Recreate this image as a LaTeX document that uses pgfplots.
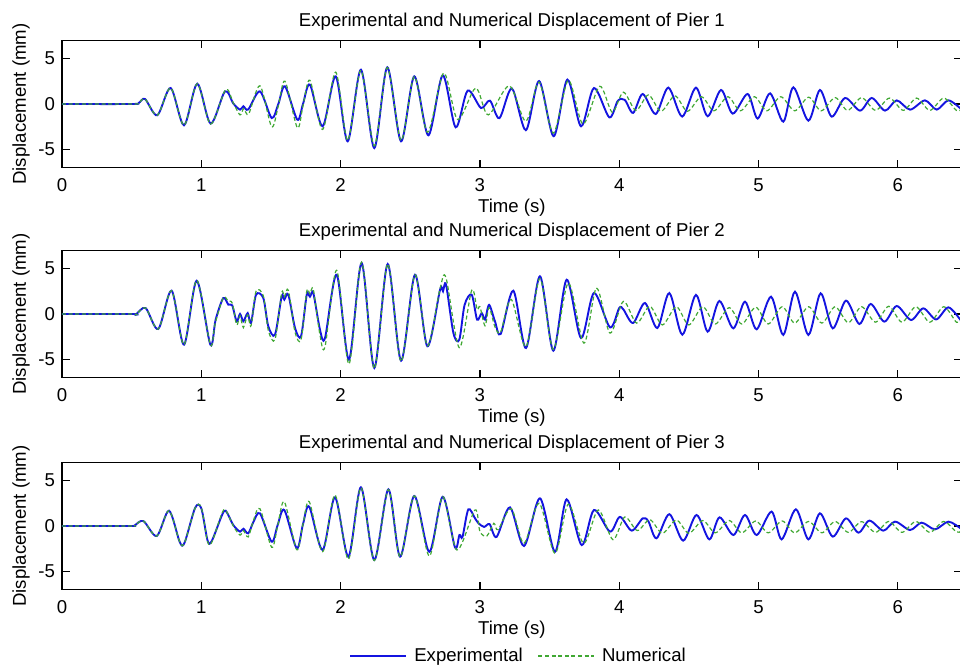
\documentclass[border=0pt]{standalone}
\usepackage{pgfplots}
\pgfplotsset{compat=1.18}
\usepackage{fontspec}
\setmainfont{Liberation Sans}
\definecolor{expblue}{rgb}{0.08,0.08,0.88}
\definecolor{numgreen}{rgb}{0.25,0.66,0.2}
\newcommand\fs{\fontsize{9.3pt}{11pt}\selectfont}
\pgfplotsset{pier/.style={
  scale only axis, width=449.94pt, height=63.7pt,
  xmin=0, xmax=6.46, ymin=-7, ymax=7,
  xtick={0,1,2,3,4,5,6}, ytick={-5,0,5},
  tick align=inside, major tick length=3.8pt,
  axis line style={line width=0.7pt},
  every tick/.style={line width=0.6pt, black},
  /pgf/number format/assume math mode=true,
  tick label style={font=\fs},
  xticklabel style={anchor=base, yshift=-12pt},
  xlabel={Time (s)},
  xlabel style={font=\fs, at={(axis description cs:0.5,0)}, anchor=base, yshift=-22.5pt},
  ylabel={Displacement (mm)},
  ylabel style={font=\fs, at={([xshift=-20.5pt]axis description cs:0,0.5)}, anchor=center},
  title style={font=\fs, at={(axis description cs:0.5,1)}, anchor=base, yshift=1pt},
  exp/.style={expblue, line width=0.95pt, smooth},
  num/.style={numgreen, line width=0.6pt, dash pattern=on 2pt off 1.3pt, smooth},
}}
\begin{document}
\begin{tikzpicture}
\useasboundingbox (0,0) rectangle (480pt,332.5pt);
% ---------------- Pier 1
\begin{axis}[pier, at={(31pt,248.65pt)}, anchor=south west,
  title={Experimental and Numerical Displacement of Pier 1}]
\addplot[exp] coordinates {
(0,0) (0.50,0) (0.55,0.1) (0.596,0.55) (0.684,-1.24) (0.780,1.76) (0.876,-2.34)
(0.971,2.23) (1.067,-2.16) (1.170,1.39) (1.23,0.05) (1.278,-0.62) (1.302,-0.25)
(1.337,-0.6) (1.421,1.39) (1.505,-1.54) (1.553,0.0) (1.601,1.94) (1.689,-1.72)
(1.73,0.0) (1.780,2.12) (1.871,-2.45) (1.965,3.04) (2.051,-4.1) (2.146,3.77)
(2.242,-4.84) (2.335,4.03) (2.434,-4.1) (2.529,3.04) (2.630,-3.44) (2.733,3.15)
(2.826,-2.56) (2.912,1.47) (3.008,-0.44) (3.072,0.37) (3.140,-1.56) (3.23,1.7)
(3.330,-2.88) (3.425,2.52) (3.530,-3.54) (3.628,2.68) (3.726,-2.45) (3.819,1.76)
(3.929,-1.47) (3.99,0.35) (4.04,0.45) (4.10,-0.98) (4.169,1.1) (4.262,-1.1)
(4.353,1.8) (4.452,-1.38) (4.551,1.8) (4.635,-1.35) (4.731,1.54) (4.815,-1.06)
(4.922,1.1) (4.994,-1.6) (5.083,1.17) (5.178,-1.94) (5.25,1.83) (5.358,-1.83)
(5.441,1.54) (5.525,-1.39) (5.621,0.66) (5.729,-0.73) (5.813,0.66) (5.908,-0.73)
(5.992,0.4) (6.088,-0.62) (6.195,0.4) (6.279,-0.62) (6.363,0.4) (6.45,-0.5)
};
\addplot[num] coordinates {
(0,0) (0.50,0) (0.55,0.1) (0.596,0.55) (0.684,-1.24) (0.780,1.76) (0.876,-2.34)
(0.971,2.23) (1.067,-2.2) (1.175,1.6) (1.23,0.1) (1.278,-1.2) (1.305,-0.5)
(1.340,-1.1) (1.421,2.0) (1.505,-2.5) (1.553,-0.2) (1.601,2.5) (1.689,-2.6)
(1.73,-0.2) (1.780,2.6) (1.871,-2.8) (1.965,3.5) (2.051,-4.0) (2.146,3.7)
(2.242,-4.6) (2.335,4.0) (2.434,-4.0) (2.529,3.0) (2.625,-3.1) (2.740,3.4)
(2.84,-1.7) (2.97,1.75) (3.06,-1.2) (3.211,2.0) (3.33,-1.9) (3.425,2.4)
(3.527,-3.2) (3.635,2.6) (3.74,-2.2) (3.86,1.95) (3.95,-0.9) (4.03,1.3)
(4.12,-0.7) (4.21,1.0) (4.30,-0.8) (4.40,0.9) (4.49,-0.8) (4.59,0.8)
(4.68,-0.75) (4.78,0.8) (4.87,-0.75) (4.97,0.8) (5.06,-0.75) (5.16,0.8)
(5.26,-0.75) (5.36,0.75) (5.45,-0.75) (5.55,0.7) (5.64,-0.7) (5.74,0.7)
(5.84,-0.7) (5.94,0.65) (6.04,-0.7) (6.135,0.65) (6.23,-0.7) (6.33,0.65)
(6.42,-0.7) (6.45,-0.65)
};
\end{axis}
% ---------------- Pier 2
\begin{axis}[pier, at={(31pt,143.65pt)}, anchor=south west,
  title={Experimental and Numerical Displacement of Pier 2}]
\addplot[exp] coordinates {
(0,0) (0.50,0) (0.53,-0.05) (0.600,0.66) (0.691,-1.65) (0.787,2.56) (0.876,-3.37)
(0.967,3.66) (1.065,-3.37) (1.103,-0.62) (1.158,1.76) (1.194,1.03) (1.222,0.95)
(1.254,-0.81) (1.278,0.0) (1.302,-0.8) (1.333,0.1) (1.357,-1.0) (1.393,2.12)
(1.445,1.76) (1.481,-1.35) (1.529,-2.27) (1.577,1.94) (1.596,1.58) (1.625,2.12)
(1.673,-1.54) (1.716,-2.45) (1.757,2.12) (1.78,1.9) (1.804,2.3) (1.852,-1.72)
(1.888,-2.64) (1.972,4.32) (2.060,-5.02) (2.151,5.6) (2.242,-5.93) (2.338,5.49)
(2.434,-5.13) (2.534,4.32) (2.623,-3.55) (2.714,2.67) (2.735,2.5) (2.757,3.22)
(2.81,-2.1) (2.852,-2.83) (2.89,0.99) (2.941,2.12) (2.98,-0.62) (3.013,0.1)
(3.037,-0.62) (3.066,1.0) (3.108,-0.8) (3.149,-2.2) (3.24,2.56) (3.331,-3.74)
(3.431,4.14) (3.527,-4.03) (3.623,3.77) (3.726,-2.64) (3.819,2.3) (3.934,-1.47)
(4.00,0.66) (4.03,0.5) (4.10,-0.99) (4.185,1.21) (4.274,-1.54) (4.36,2.3)
(4.453,-2.27) (4.551,2.1) (4.635,-1.94) (4.719,1.43) (4.819,-1.58) (4.903,1.36)
(4.987,-1.68) (5.09,1.9) (5.178,-2.3) (5.262,2.45) (5.358,-2.3) (5.446,2.27)
(5.533,-1.58) (5.628,1.47) (5.724,-1.1) (5.805,1.1) (5.903,-0.84) (5.992,0.88)
(6.095,-0.66) (6.183,0.62) (6.275,-0.6) (6.363,0.73) (6.45,-0.66)
};
\addplot[num] coordinates {
(0,0) (0.50,0) (0.53,-0.05) (0.600,0.66) (0.691,-1.65) (0.787,2.56) (0.876,-3.37)
(0.967,3.7) (1.065,-3.37) (1.10,-1.0) (1.158,1.8) (1.194,1.4) (1.222,1.2)
(1.254,-1.2) (1.278,-0.2) (1.302,-1.5) (1.333,-0.1) (1.357,-1.3) (1.393,2.5)
(1.445,2.0) (1.481,-1.8) (1.529,-2.8) (1.577,2.3) (1.596,1.9) (1.625,2.6)
(1.673,-2.0) (1.716,-2.8) (1.757,2.5) (1.78,2.2) (1.804,2.7) (1.852,-2.3)
(1.888,-3.6) (1.972,4.8) (2.060,-5.5) (2.151,5.7) (2.242,-6.0) (2.338,5.5)
(2.434,-5.2) (2.534,4.3) (2.623,-3.5) (2.714,2.8) (2.757,3.96) (2.852,-3.7)
(2.941,2.6) (2.98,0.5) (3.00,0.8) (3.037,-1.3) (3.066,0.7) (3.108,-1.4)
(3.149,-2.0) (3.225,1.6) (3.331,-3.6) (3.431,3.9) (3.527,-3.9) (3.635,3.4)
(3.747,-3.2) (3.837,2.86) (3.934,-2.1) (4.03,1.39) (4.125,-1.0) (4.22,0.84)
(4.31,-1.2) (4.41,0.8) (4.50,-1.2) (4.60,0.8) (4.69,-1.1) (4.79,0.7)
(4.88,-1.1) (4.98,0.75) (5.07,-1.1) (5.17,0.8) (5.26,-1.0) (5.36,0.8)
(5.455,-1.0) (5.55,0.8) (5.645,-0.95) (5.74,0.8) (5.84,-0.9) (5.935,0.85)
(6.03,-0.9) (6.13,0.8) (6.23,-0.9) (6.33,0.8) (6.42,-0.9) (6.45,-0.8)
};
\end{axis}
% ---------------- Pier 3
\begin{axis}[pier, at={(31pt,37.65pt)}, anchor=south west,
  title={Experimental and Numerical Displacement of Pier 3},
  legend columns=2,
  legend style={at={(axis description cs:0,0)}, anchor=west, xshift=143.5pt, yshift=-33.15pt,
    draw=none, fill=none, inner sep=0pt, font=\fs, nodes={inner sep=0pt},
    /tikz/every odd column/.append style={column sep=3.5pt},
    /tikz/every even column/.append style={column sep=7.5pt}},
  legend image code/.code={\draw[#1] (0pt,0pt) -- (28pt,0pt);}]
\addplot[exp] coordinates {
(0,0) (0.50,0) (0.52,0.05) (0.584,0.55) (0.680,-1.1) (0.768,1.68) (0.845,-1.75)
(0.880,-1.83) (0.956,2.0) (1.00,1.95) (1.045,-1.6) (1.075,-1.65) (1.146,1.1)
(1.175,1.68) (1.230,0.1) (1.278,-0.62) (1.302,-0.3) (1.337,-0.81) (1.374,0.44)
(1.421,1.39) (1.505,-1.72) (1.548,0.1) (1.596,1.76) (1.685,-2.45) (1.73,0.2)
(1.775,2.12) (1.871,-2.64) (1.960,3.15) (2.056,-3.37) (2.146,4.25) (2.242,-3.74)
(2.343,4.03) (2.427,-3.37) (2.529,3.3) (2.637,-2.83) (2.733,3.22) (2.821,-2.34)
(2.853,-0.99) (2.875,-1.2) (2.917,1.83) (2.965,0.84) (2.99,0.3) (3.03,-0.1)
(3.07,0.2) (3.12,-1.2) (3.216,2.05) (3.317,-2.2) (3.431,3.04) (3.539,-2.83)
(3.623,2.93) (3.731,-2.1) (3.819,1.76) (3.934,-0.62) (4.005,1.0) (4.09,-0.51)
(4.169,0.84) (4.21,0.5) (4.268,-1.35) (4.36,1.3) (4.459,-1.61) (4.555,1.21)
(4.647,-1.47) (4.72,0.95) (4.82,-0.99) (4.903,1.21) (4.987,-0.99) (5.094,1.58)
(5.166,-1.47) (5.268,1.83) (5.358,-1.47) (5.441,1.39) (5.533,-1.17) (5.628,0.84)
(5.717,-0.73) (5.796,0.59) (5.896,-0.51) (5.98,0.48) (6.088,-0.44) (6.171,0.37)
(6.267,-0.37) (6.363,0.48) (6.45,-0.26)
};
\addlegendentry{Experimental}
\addplot[num] coordinates {
(0,0) (0.50,0) (0.52,0.05) (0.584,0.55) (0.680,-1.1) (0.768,1.68) (0.845,-1.75)
(0.880,-1.83) (0.956,2.0) (1.00,2.0) (1.045,-1.7) (1.075,-1.8) (1.146,1.3)
(1.175,1.75) (1.230,0.0) (1.278,-1.0) (1.302,-0.5) (1.337,-1.2) (1.374,0.6)
(1.421,1.9) (1.505,-2.34) (1.548,0.0) (1.596,2.67) (1.685,-2.6) (1.73,0.2)
(1.775,2.67) (1.871,-2.82) (1.960,3.4) (2.056,-3.66) (2.146,4.2) (2.242,-3.8)
(2.343,4.0) (2.427,-3.4) (2.529,3.3) (2.637,-3.3) (2.733,3.22) (2.835,-2.64)
(2.965,1.76) (3.00,-0.6) (3.05,-1.1) (3.10,0.3) (3.13,-0.4) (3.225,1.9)
(3.317,-1.9) (3.425,2.5) (3.539,-3.0) (3.635,2.4) (3.745,-1.9) (3.85,1.76)
(3.955,-1.5) (4.04,0.99) (4.13,-0.5) (4.22,0.7) (4.31,-0.8) (4.41,0.65)
(4.50,-0.8) (4.60,0.6) (4.69,-0.75) (4.79,0.6) (4.88,-0.75) (4.98,0.55)
(5.07,-0.75) (5.17,0.55) (5.26,-0.75) (5.36,0.5) (5.455,-0.75) (5.55,0.5)
(5.645,-0.7) (5.74,0.48) (5.84,-0.7) (5.935,0.5) (6.03,-0.7) (6.13,0.5)
(6.23,-0.7) (6.33,0.5) (6.42,-0.65) (6.45,-0.6)
};
\addlegendentry{Numerical}
\end{axis}
\end{tikzpicture}
\end{document}
